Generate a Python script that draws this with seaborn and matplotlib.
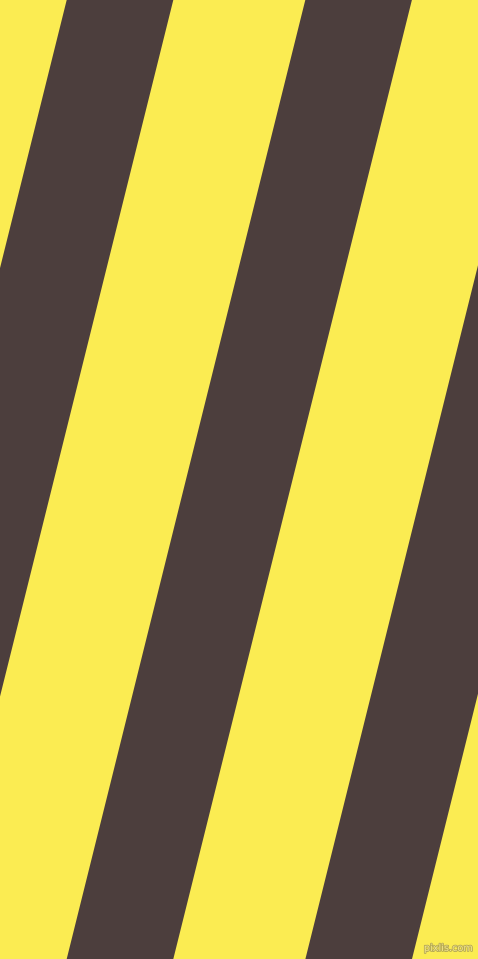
import numpy as np
import pandas as pd
import matplotlib
matplotlib.use("Agg")
import matplotlib.pyplot as plt
import matplotlib.patheffects as pe
import seaborn as sns

# Diagonal stripe pattern: dark band left edges measured at the top row (px)
band_top_left = [66.7, 305.3, 544.0]
band_width = [106.6, 106.6, 106.6]
# horizontal drift of each edge across the full height (px, leftward)
drift_total = [238.6, 238.6, 238.6]
canvas_h = 959
canvas_w = 478

dark_color = "#4c3e3d"
light_color = "#fbec52"

sns.set_theme(style="white")
plt.rcParams['font.family'] = ['DejaVu Sans']

fig = plt.figure(figsize=(4.78, 9.59), dpi=100)
fig.patch.set_facecolor(light_color)
ax = fig.add_axes([0, 0, 1, 1])
ax.set_facecolor(light_color)

ys = np.array([0.0, float(canvas_h)])
rows = []
for i, (x0, w, d) in enumerate(zip(band_top_left, band_width, drift_total)):
    for y in ys:
        left = x0 - d * y / canvas_h
        rows.append({"band": i, "y": y, "left": left, "right": left + w})
df = pd.DataFrame(rows)

for b, g in df.groupby("band"):
    ax.fill_betweenx(g["y"], g["left"], g["right"], color=dark_color, linewidth=0)

ax.set_xlim(0, canvas_w)
ax.set_ylim(canvas_h, 0)
ax.axis("off")

ax.text(473, 948, "pixlis.com", fontsize=7, color="#f3e68a",
        ha="right", va="center",
        path_effects=[pe.withStroke(linewidth=1.2, foreground="#b5a955")])

fig.savefig("out.png", dpi=100, facecolor=light_color)
